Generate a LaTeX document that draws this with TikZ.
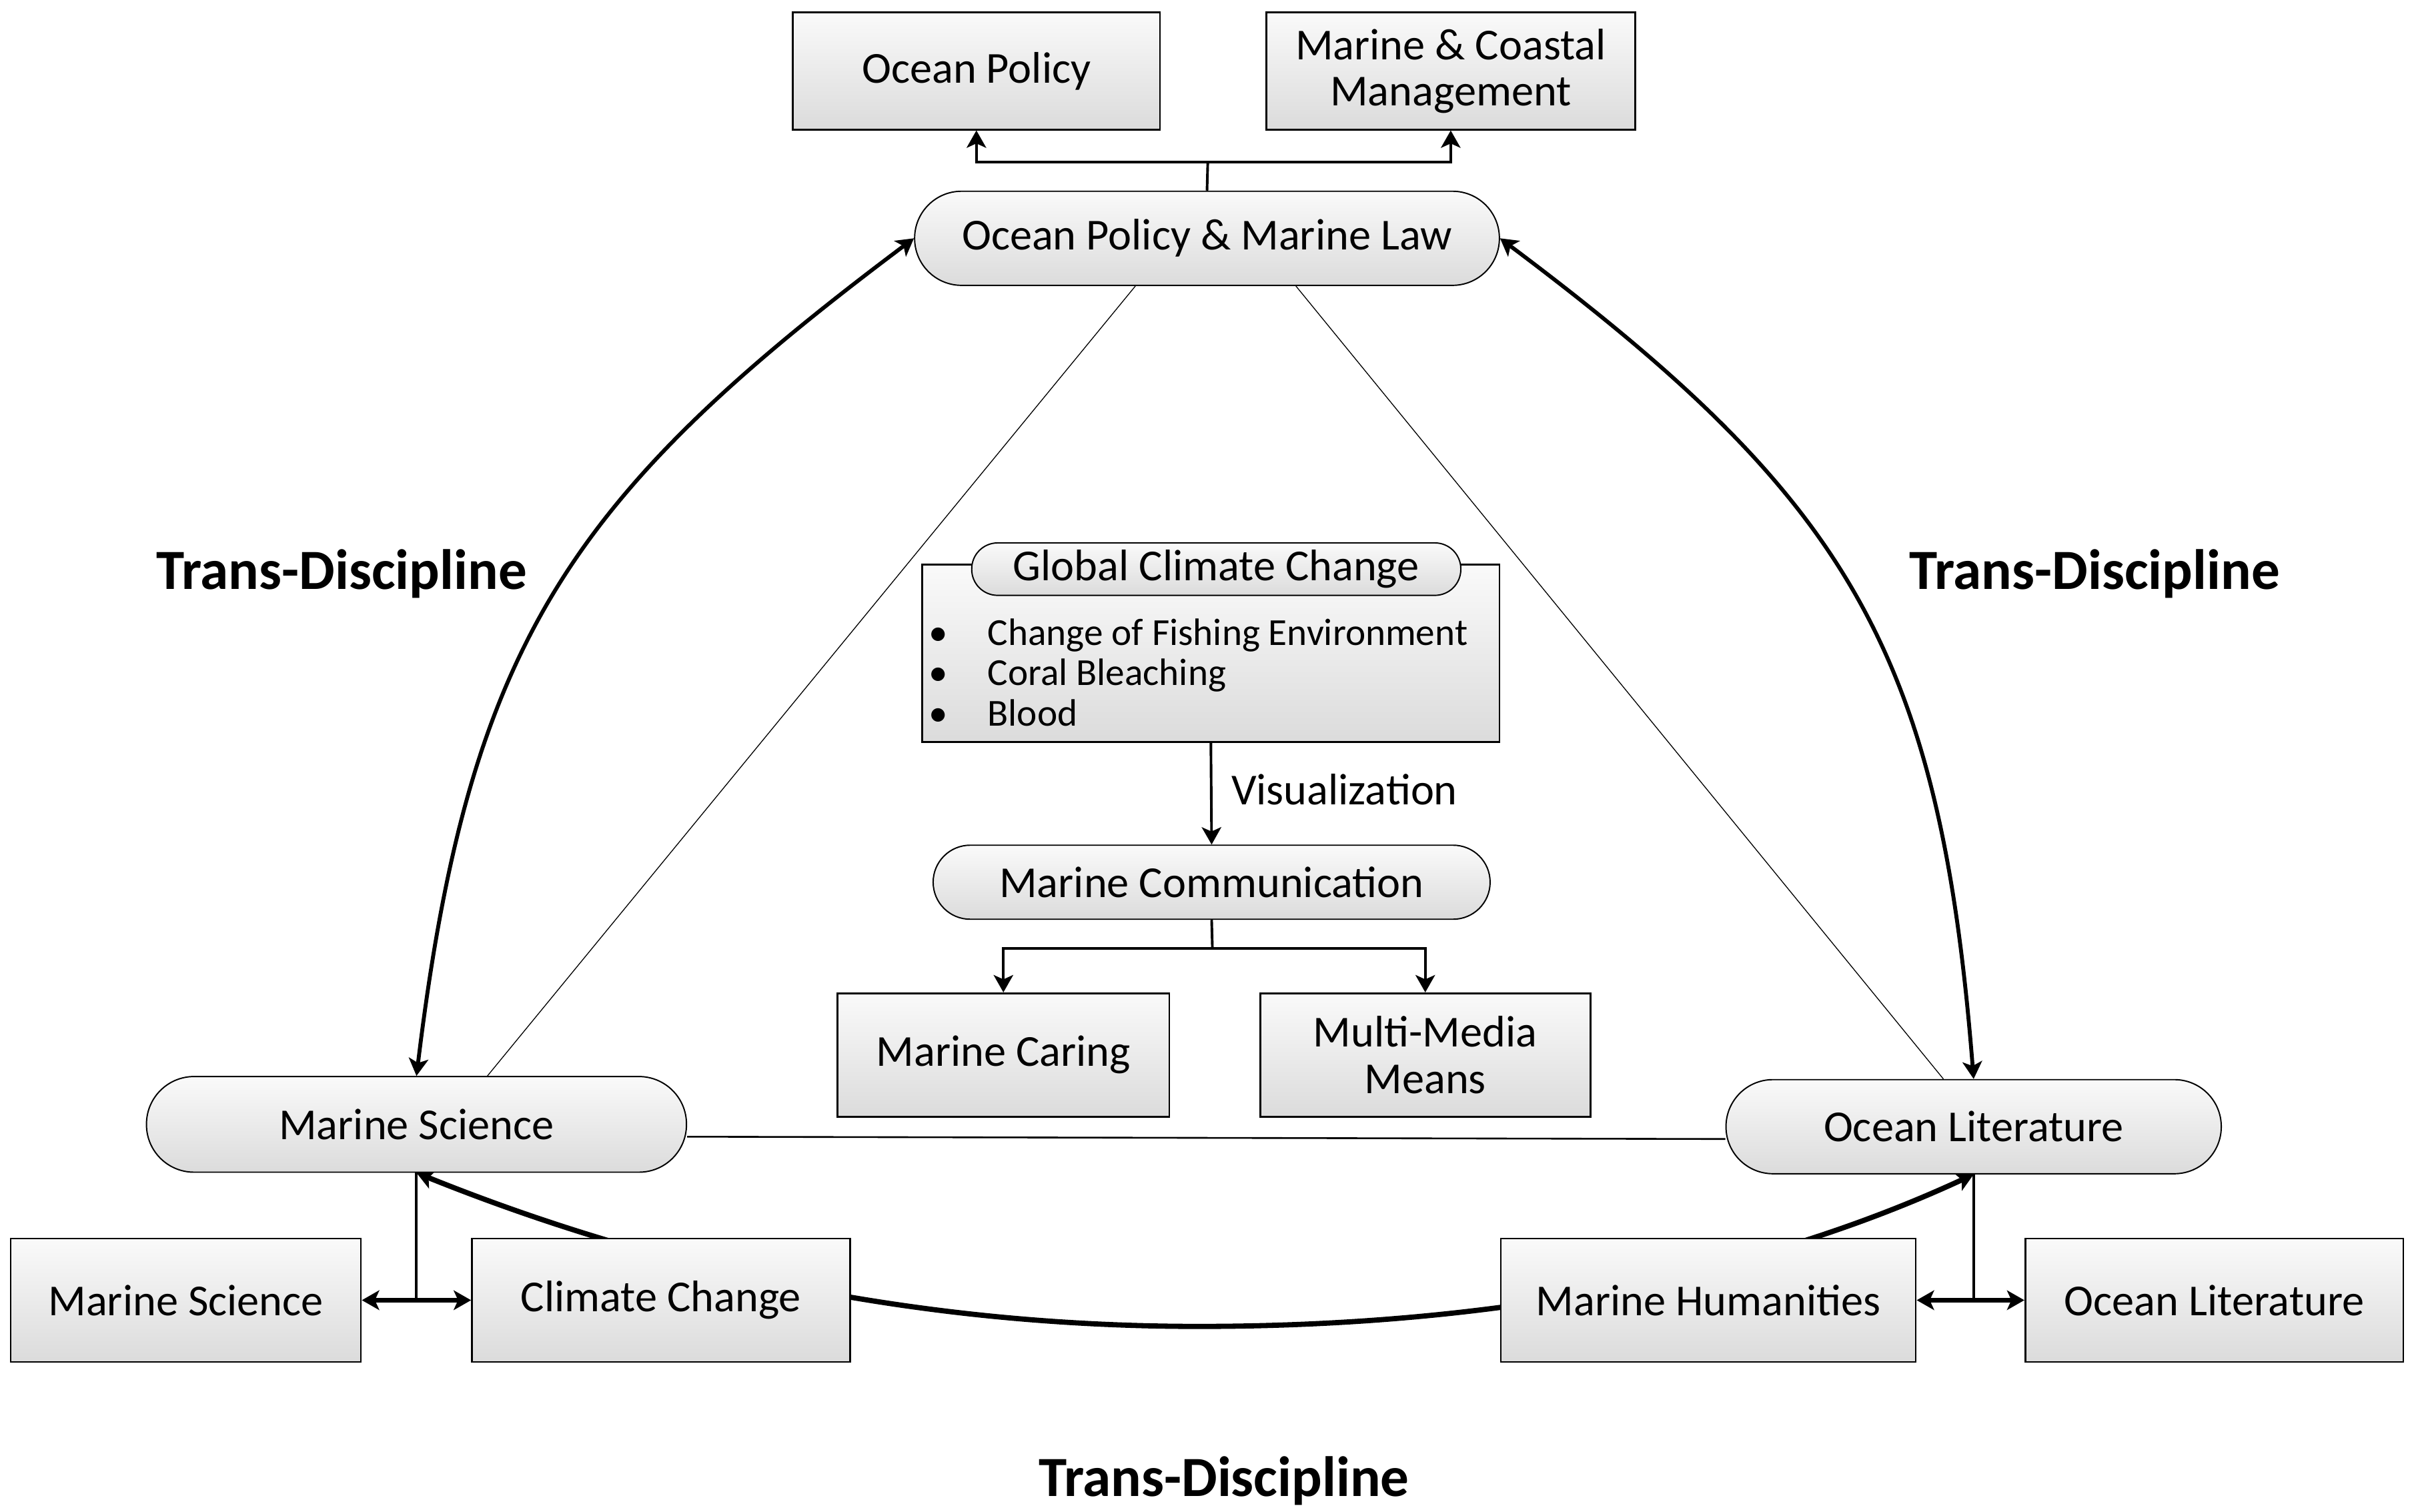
\documentclass[tikz,border=0pt]{standalone}
\usepackage{fontspec}
\setmainfont{Carlito}
\usetikzlibrary{arrows.meta,backgrounds}
\newcommand\mainsz{\fontsize{20.4}{21.3}\selectfont}
\newcommand\bulsz{\fontsize{17.6}{18.5}\selectfont}
\newcommand\transsz{\fontsize{26.2}{28}\selectfont\bfseries}
\begin{document}
\begin{tikzpicture}[x=0.025cm,y=-0.025cm,
  >={Stealth[length=8pt,width=9pt,inset=2pt]},
  box/.style={draw=black, line width=0.8pt, top color=black!2, bottom color=black!14,
    inner sep=0pt, align=center, font=\mainsz},
  pill/.style={box, line width=0.6pt},
  conn/.style={line width=1.2pt},
  thinline/.style={line width=0.4pt},
  midline/.style={line width=0.8pt},
  arcarrow/.style={line width=1.8pt,<->},
  dblarrow/.style={line width=2pt,<->},
  botcurve/.style={line width=2.4pt,<->},
  translabel/.style={font=\transsz, inner sep=0pt}
]
\useasboundingbox (0,0) rectangle (1565,980);

% top boxes
\node[box, minimum width=5.95cm, minimum height=1.9cm] (op) at (633,46) {Ocean Policy};
\node[box, minimum width=5.975cm, minimum height=1.9cm] (mcm) at (940.5,46) {Marine \& Coastal\\Management};
\node[pill, minimum width=9.475cm, minimum height=1.525cm, rounded corners=0.76cm] (opml) at (782.5,154.5) {Ocean Policy \& Marine Law};

% centre
\node[box, minimum width=9.35cm, minimum height=2.875cm] (gcc) at (785,423.5) {};
\node[pill, minimum width=7.925cm, minimum height=0.85cm, rounded corners=0.42cm] (gcct) at (788.5,369) {Global Climate Change};
\node[anchor=west, align=left, inner sep=0pt, font=\bulsz] (bul) at (602,436)
  {\makebox[0.95cm][l]{\textbullet}Change of Fishing Environment\\
   \makebox[0.95cm][l]{\textbullet}Coral Bleaching\\
   \makebox[0.95cm][l]{\textbullet}Blood};
\node[pill, minimum width=9.025cm, minimum height=1.2cm, rounded corners=0.6cm] (mc) at (785.5,572) {Marine Communication};
\node[anchor=west, inner sep=0pt, font=\mainsz] (vis) at (798,512) {Visualization};
\node[box, minimum width=5.375cm, minimum height=2cm] (caring) at (650.5,684) {Marine Caring};
\node[box, minimum width=5.35cm, minimum height=2cm] (mmm) at (924,684) {Multi-Media\\Means};

% lower pills
\node[pill, minimum width=8.75cm, minimum height=1.55cm, rounded corners=0.77cm] (ms) at (270,729) {Marine Science};
\node[pill, minimum width=8.025cm, minimum height=1.525cm, rounded corners=0.76cm] (ol) at (1279.5,730.5) {Ocean Literature};

% bottom boxes
\node[box, minimum width=5.675cm, minimum height=2cm] (msb) at (120.5,843) {Marine Science};
\node[box, minimum width=6.125cm, minimum height=2cm] (cc) at (428.5,843) {Climate Change};
\node[box, minimum width=6.725cm, minimum height=2cm] (mh) at (1107.5,843) {Marine Humanities};
\node[box, minimum width=6.125cm, minimum height=2cm] (olb) at (1435.5,843) {Ocean Literature};

% labels
\node[translabel] (tdl) at (221.5,372) {Trans-Discipline};
\node[translabel] (tdr) at (1358,372) {Trans-Discipline};
\node[translabel] (tdb) at (793.5,960) {Trans-Discipline};

% junction coordinates
\coordinate (jtop) at (783,105);
\coordinate (jmid) at (786,615);
\coordinate (jl) at (270,843);
\coordinate (jr) at (1279.5,843);
\coordinate (bm) at (777,860);

\begin{scope}[on background layer]
  % triangle lines
  \draw[thinline] ([xshift=-1.16cm]opml.south) -- ([xshift=1.15cm]ms.north);
  \draw[thinline] ([xshift=1.44cm]opml.south) -- ([xshift=-0.49cm]ol.north);
  \draw[midline] ([yshift=-0.2cm]ms.east) -- ([yshift=-0.2cm]ol.west);
  % bottom curve
  \draw[botcurve] (ms.south) .. controls +(139,56) and +(-200,0) .. (bm)
                   .. controls +(200,0) and +(-136,63) .. (ol.south);
\end{scope}

% top connectors
\draw[conn] (opml.north) -- (jtop);
\draw[conn,->] (jtop) -| (op.south);
\draw[conn,->] (jtop) -| (mcm.south);

% centre connectors
\draw[conn,->] (gcc.south) -- (mc.north);
\draw[conn] (mc.south) -- (jmid);
\draw[conn,->] (jmid) -| (caring.north);
\draw[conn,->] (jmid) -| (mmm.north);

% arcs
\draw[arcarrow] (ms.north) .. controls +(34,-280) and +(-224,168) .. (opml.west);
\draw[arcarrow] (opml.east) .. controls +(224,168) and +(-22,-280) .. (ol.north);

% bottom connectors
\draw[conn] (ms.south) -- (jl);
\draw[dblarrow] (msb.east) -- (cc.west);
\draw[conn] (ol.south) -- (jr);
\draw[dblarrow] (mh.east) -- (olb.west);
\end{tikzpicture}
\end{document}
